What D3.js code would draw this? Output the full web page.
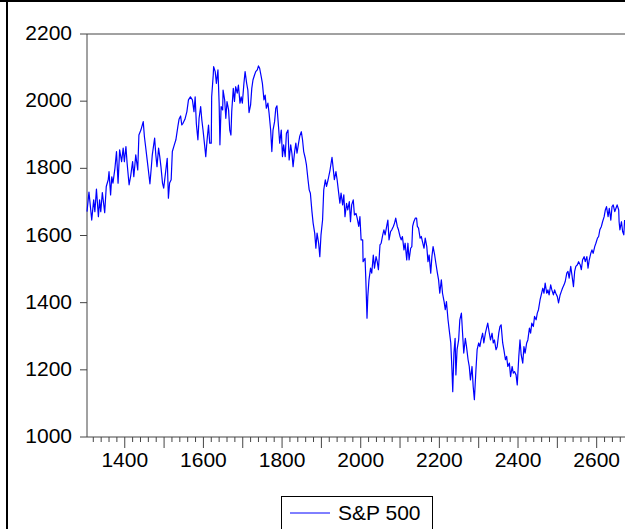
<!DOCTYPE html>
<html><head><meta charset="utf-8">
<script src="https://cdn.jsdelivr.net/npm/d3@7"></script>
<style>body{margin:0;background:#fff}svg{display:block}</style>
</head><body><svg id="c" width="625" height="529"></svg>
<script>
const obs = [1304,1309,1316,1321,1324,1328,1333,1336,1339,1343,
1349,1353,1358,1360,1364,1367,1370,1375,1379,1383,
1387,1392,1396,1399,1403,1406,1411,1415,1420,1423,
1428,1433,1436,1441,1447,1450,1453,1457,1460,1464,
1468,1470,1476,1479,1482,1486,1489,1492,1496,1499,
1504,1508,1511,1514,1518,1521,1526,1530,1535,1538,
1542,1545,1548,1553,1558,1562,1567,1572,1576,1579,
1582,1586,1589,1593,1596,1599,1603,1606,1609,1613,
1616,1620,1621,1625,1626,1630,1633,1637,1640,1642,
1645,1649,1650,1654,1657,1660,1664,1667,1670,1672,
1676,1679,1682,1686,1689,1693,1696,1699,1703,1706,
1710,1713,1716,1720,1723,1726,1730,1733,1737,1740,
1743,1747,1750,1754,1757,1760,1764,1767,1771,1774,
1777,1781,1784,1787,1791,1794,1798,1801,1804,1808,
1811,1815,1818,1822,1825,1828,1832,1835,1838,1842,
1845,1849,1852,1855,1859,1862,1866,1869,1872,1876,
1879,1883,1886,1889,1893,1896,1899,1903,1906,1910,
1913,1917,1922,1927,1930,1933,1937,1940,1944,1947,
1950,1954,1957,1960,1964,1967,1971,1974,1977,1981,
1984,1988,1991,1995,1998,2001,2005,2006,2011,2013,
2016,2018,2021,2025,2028,2032,2035,2039,2042,2045,
2049,2052,2056,2059,2062,2066,2069,2072,2076,2079,
2083,2086,2089,2093,2096,2100,2103,2106,2110,2113,
2117,2120,2123,2127,2130,2132,2135,2139,2142,2144,
2147,2151,2154,2157,2161,2164,2168,2171,2174,2178,
2181,2184,2188,2191,2195,2198,2201,2205,2208,2212,
2215,2218,2222,2225,2229,2232,2234,2237,2240,2242,
2245,2249,2252,2256,2259,2262,2266,2269,2273,2276,
2279,2283,2286,2289,2293,2296,2300,2303,2306,2310,
2313,2317,2320,2323,2327,2330,2334,2337,2340,2344,
2347,2351,2354,2357,2361,2364,2368,2371,2374,2378,
2381,2385,2388,2391,2395,2398,2402,2405,2408,2412,
2415,2418,2422,2425,2429,2432,2435,2439,2442,2446,
2449,2452,2456,2459,2463,2466,2469,2473,2476,2479,
2483,2486,2490,2493,2496,2500,2503,2507,2510,2513,
2517,2520,2524,2527,2530,2534,2537,2541,2544,2547,
2551,2554,2558,2561,2564,2568,2571,2575,2578,2581,
2585,2588,2591,2595,2598,2602,2605,2608,2612,2615,
2619,2622,2625,2629,2632,2636,2639,2642,2646,2649,
2652,2656,2657,2659,2663,2666,2669,2671];

const sp500 = [1671,1729,1646,1706,1671,1738,1656,1706,1671,1728,
1668,1746,1766,1790,1721,1775,1756,1800,1850,1756,
1855,1820,1860,1820,1865,1815,1751,1777,1820,1775,
1840,1795,1899,1914,1939,1894,1865,1825,1795,1754,
1810,1840,1890,1840,1805,1860,1835,1805,1756,1741,
1790,1830,1711,1756,1766,1850,1870,1885,1924,1946,
1956,1929,1934,1946,1969,2004,2013,2004,1969,2013,
1934,1885,1949,1984,1944,1914,1870,1835,1880,1929,
1875,1875,2013,2078,2103,2088,2053,2093,1994,1870,
1984,1974,2033,2004,1949,1999,1974,1914,1899,1969,
2038,1999,2043,2024,2048,1994,2013,1994,2053,2088,
2053,2033,1966,1989,2038,2063,2078,2088,2093,2105,
2098,2073,2053,2004,2018,1979,1994,1964,1914,1850,
1914,1939,1979,1986,1924,1875,1914,1835,1870,1835,
1904,1914,1825,1870,1845,1805,1850,1875,1845,1875,
1896,1909,1885,1850,1830,1810,1766,1736,1726,1671,
1637,1607,1562,1607,1577,1537,1602,1646,1736,1766,
1746,1766,1795,1833,1800,1766,1790,1766,1726,1696,
1726,1691,1721,1656,1696,1676,1701,1641,1691,1706,
1661,1666,1652,1627,1656,1587,1587,1522,1532,1468,
1354,1418,1468,1503,1488,1542,1503,1537,1522,1498,
1572,1577,1602,1617,1602,1627,1646,1587,1612,1617,
1627,1637,1652,1627,1617,1597,1587,1597,1557,1577,
1527,1577,1527,1562,1567,1627,1641,1652,1652,1627,
1622,1592,1597,1582,1562,1592,1567,1522,1542,1488,
1537,1567,1542,1518,1488,1468,1428,1468,1428,1403,
1379,1403,1349,1319,1280,1200,1135,1250,1294,1185,
1260,1289,1349,1369,1309,1250,1294,1269,1230,1210,
1170,1210,1150,1111,1200,1260,1280,1269,1289,1309,
1280,1309,1324,1339,1309,1289,1309,1280,1289,1260,
1269,1309,1329,1334,1280,1260,1230,1240,1210,1220,
1180,1210,1190,1195,1185,1155,1240,1289,1245,1220,
1269,1250,1280,1289,1324,1309,1339,1329,1359,1349,
1369,1379,1408,1423,1443,1428,1458,1428,1438,1423,
1453,1438,1423,1438,1428,1418,1399,1423,1433,1443,
1453,1463,1488,1493,1473,1508,1483,1448,1493,1508,
1513,1522,1513,1498,1527,1537,1522,1537,1503,1527,
1547,1557,1547,1567,1577,1592,1597,1617,1627,1641,
1656,1676,1686,1656,1681,1646,1686,1691,1671,1681,
1691,1676,1641,1617,1641,1612,1602,1646];

const yTicks = [1000,1200,1400,1600,1800,2000,2200];
const xLabels = [1400,1600,1800,2000,2200,2400,2600];
const seriesName = "S&P 500";

const svg = d3.select("#c");
const font = "'Liberation Sans', Arial, sans-serif";
const x = d3.scaleLinear().domain([1304, 2672]).range([87, 625]);
const y = d3.scaleLinear().domain([1000, 2200]).range([437, 34]);
const axisCol = "#444";

// outer border
svg.append("line").attr("x1",0).attr("x2",625).attr("y1",1).attr("y2",1).attr("stroke","#000").attr("stroke-width",2);
svg.append("line").attr("x1",7).attr("x2",7).attr("y1",0).attr("y2",529).attr("stroke","#000").attr("stroke-width",2);

// frame
svg.append("line").attr("x1",x.range()[0]).attr("x2",640).attr("y1",y(2200)).attr("y2",y(2200)).attr("stroke",axisCol);
svg.append("line").attr("x1",x.range()[0]).attr("x2",x.range()[0]).attr("y1",y(2200)).attr("y2",y(1000)).attr("stroke",axisCol);
svg.append("line").attr("x1",x.range()[0]).attr("x2",640).attr("y1",y(1000)).attr("y2",y(1000)).attr("stroke",axisCol);

// y ticks
const yg = svg.append("g");
yTicks.forEach(v => {
  yg.append("line").attr("x1",80).attr("x2",87).attr("y1",y(v)).attr("y2",y(v)).attr("stroke",axisCol);
  yg.append("text").attr("x",72).attr("y",y(v)+6).attr("text-anchor","end")
    .attr("font-family",font).attr("font-size",21).attr("fill","#000").text(v);
});

// x ticks
const xg = svg.append("g");
d3.range(1320, 2700, 20).forEach(v => {
  const major = v % 100 === 0;
  xg.append("line").attr("x1",x(v)).attr("x2",x(v)).attr("y1",437).attr("y2",437 + (major?11:5)).attr("stroke",axisCol);
});
xLabels.forEach(v => {
  xg.append("text").attr("x",x(v)).attr("y",467).attr("text-anchor","middle")
    .attr("font-family",font).attr("font-size",21).attr("fill","#000").text(v);
});

// series
const data = obs.map((o,i)=>({o, v: sp500[i]}));
svg.append("path").datum(data)
  .attr("d", d3.line().x(d=>x(d.o)).y(d=>y(d.v)))
  .attr("fill","none").attr("stroke","#0000ff").attr("stroke-width",1.2).attr("stroke-linejoin","round");

// legend
svg.append("rect").attr("x",281.5).attr("y",496.5).attr("width",151).attr("height",45)
  .attr("fill","#fff").attr("stroke","#000");
svg.append("line").attr("x1",290).attr("x2",330).attr("y1",513).attr("y2",513).attr("stroke","#0000ff");
svg.append("text").attr("x",338).attr("y",520).attr("font-family",font).attr("font-size",21).attr("fill","#000").text(seriesName);
</script></body></html>
